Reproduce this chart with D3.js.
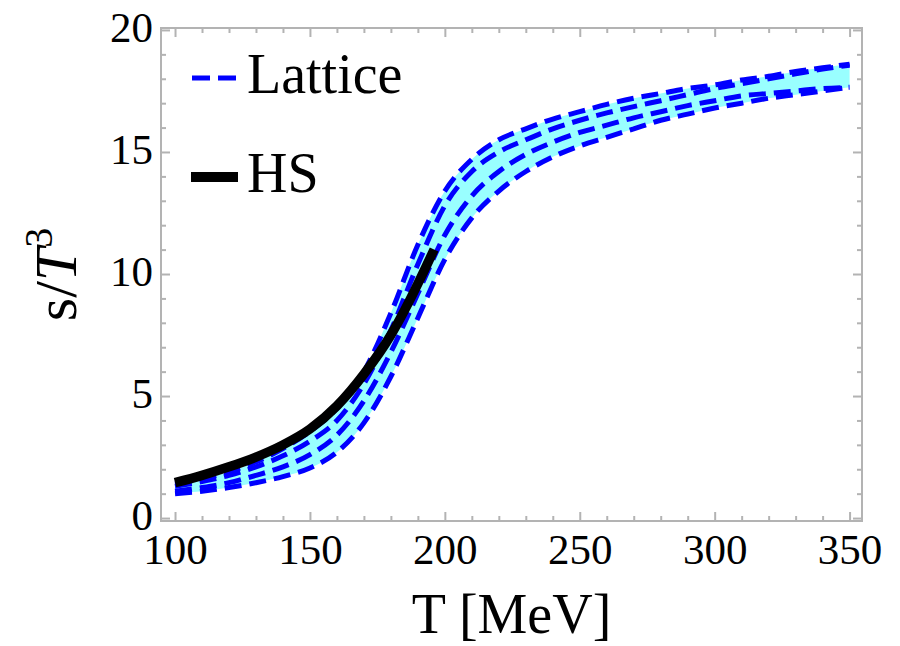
<html>
<head>
<script src="https://d3js.org/d3.v7.min.js"></script>
<style>
  body { margin: 0; background: white; }
  text { font-family: "Liberation Serif", "DejaVu Serif", serif; fill: black; }
  .axis path { display: none; }
  .axis line { stroke: #b3b3b3; stroke-width: 2; }
  .axis text { font-size: 43px; }
</style>
</head>
<body>
<svg width="900" height="646"></svg>
<script>

// temperatures (MeV) the lattice curves are read at
var latT = [100,110,120,130,140,150,160,170,180,190,200,210,220,230,240,250,260,270,280,290,300,310,320,330,340,350];
// four dashed lattice curves, s/T^3
var latA = [1.4,1.6,1.9,2.3,2.85,3.55,4.5,6.0,8.4,11.2,13.4,14.7,15.5,15.95,16.35,16.65,16.95,17.2,17.4,17.6,17.75,17.95,18.1,18.3,18.45,18.6];
var latB = [1.3,1.5,1.75,2.1,2.55,3.15,4.0,5.5,7.7,10.4,12.8,14.2,15.0,15.5,15.95,16.3,16.6,16.86,17.1,17.35,17.6,17.8,18.0,18.2,18.4,18.55];
var latC = [1.1,1.25,1.45,1.75,2.1,2.6,3.4,4.8,6.8,9.2,11.6,13.2,14.2,14.9,15.4,15.8,16.1,16.4,16.65,16.9,17.1,17.3,17.4,17.5,17.6,17.65];
var latD = [1.0,1.1,1.25,1.45,1.7,2.05,2.7,3.9,5.8,8.2,10.6,12.3,13.4,14.2,14.8,15.25,15.6,15.95,16.3,16.55,16.8,17.0,17.2,17.35,17.5,17.65];

// hadron spectrum curve
var hsT = [100,110,120,130,140,150,160,170,180,185,190,196];
var hsS = [1.45,1.75,2.1,2.5,3.0,3.65,4.6,5.9,7.5,8.5,9.6,11.0];

var xMajor = [100,150,200,250,300,350];
var yMajor = [0,5,10,15,20];
var xMinor = d3.range(100, 351, 10).filter(function(d) { return d % 50 != 0; });
var yMinor = d3.range(0, 21, 1).filter(function(d) { return d % 5 != 0; });

var plotLeft = 161, plotRight = 862, plotTop = 28, plotBottom = 521;

var x = d3.scaleLinear().domain([94.8, 354.6]).range([plotLeft, plotRight]);
var y = d3.scaleLinear().domain([-0.12, 20.08]).range([plotBottom, plotTop]);

var svg = d3.select("svg");

// lattice band
var rows = latT.map(function(t, i) {
  return {t: t, v: [latA[i], latB[i], latC[i], latD[i]]};
});

var band = d3.area()
  .x(function(d) { return x(d.t); })
  .y0(function(d) { return y(d3.min(d.v)); })
  .y1(function(d) { return y(d3.max(d.v)); })
  .curve(d3.curveMonotoneX);

svg.append("path")
  .datum(rows)
  .attr("d", band)
  .attr("fill", "#99ffff");

var line = d3.line()
  .x(function(d) { return x(d[0]); })
  .y(function(d) { return y(d[1]); })
  .curve(d3.curveMonotoneX);

[latA, latB, latC, latD].forEach(function(s) {
  svg.append("path")
    .datum(d3.zip(latT, s))
    .attr("d", line)
    .attr("fill", "none")
    .attr("stroke", "#0000ff")
    .attr("stroke-width", 5)
    .attr("stroke-dasharray", "17,8");
});

svg.append("path")
  .datum(d3.zip(hsT, hsS))
  .attr("d", line)
  .attr("fill", "none")
  .attr("stroke", "black")
  .attr("stroke-width", 9.5);

// frame and ticks, all pointing inward
svg.append("rect")
  .attr("x", plotLeft).attr("y", plotTop)
  .attr("width", plotRight - plotLeft).attr("height", plotBottom - plotTop)
  .attr("fill", "none")
  .attr("stroke", "#b3b3b3")
  .attr("stroke-width", 2);

svg.append("g").attr("class", "axis")
  .attr("transform", "translate(0," + plotBottom + ")")
  .call(d3.axisBottom(x).tickValues(xMajor).tickSize(-9).tickPadding(12).tickFormat(d3.format("d")));
svg.append("g").attr("class", "axis")
  .attr("transform", "translate(0," + plotBottom + ")")
  .call(d3.axisBottom(x).tickValues(xMinor).tickSize(-5).tickFormat(""));
svg.append("g").attr("class", "axis")
  .attr("transform", "translate(0," + plotTop + ")")
  .call(d3.axisTop(x).tickValues(xMajor).tickSize(-9).tickFormat(""));
svg.append("g").attr("class", "axis")
  .attr("transform", "translate(0," + plotTop + ")")
  .call(d3.axisTop(x).tickValues(xMinor).tickSize(-5).tickFormat(""));

svg.append("g").attr("class", "axis")
  .attr("transform", "translate(" + plotLeft + ",0)")
  .call(d3.axisLeft(y).tickValues(yMajor).tickSize(-9).tickPadding(8).tickFormat(d3.format("d")))
  .selectAll("text").attr("dy", "0.26em");
svg.append("g").attr("class", "axis")
  .attr("transform", "translate(" + plotLeft + ",0)")
  .call(d3.axisLeft(y).tickValues(yMinor).tickSize(-5).tickFormat(""));
svg.append("g").attr("class", "axis")
  .attr("transform", "translate(" + plotRight + ",0)")
  .call(d3.axisRight(y).tickValues(yMajor).tickSize(-9).tickFormat(""));
svg.append("g").attr("class", "axis")
  .attr("transform", "translate(" + plotRight + ",0)")
  .call(d3.axisRight(y).tickValues(yMinor).tickSize(-5).tickFormat(""));

// axis titles
svg.append("text")
  .attr("x", (plotLeft + plotRight) / 2)
  .attr("y", 633)
  .attr("text-anchor", "middle")
  .style("font-size", "56px")
  .text("T [MeV]");

var ylab = svg.append("text")
  .attr("transform", "translate(76," + (plotTop + plotBottom) / 2 + ") rotate(-90)")
  .attr("text-anchor", "middle")
  .style("font-size", "60px");
ylab.append("tspan").text("s/");
ylab.append("tspan").style("font-style", "italic").text("T");
ylab.append("tspan").attr("dy", -24).style("font-size", "40px").text("3");

// legend
var legend = svg.append("g");
legend.append("line")
  .attr("x1", 192).attr("x2", 236).attr("y1", 78).attr("y2", 78)
  .attr("stroke", "#0000ff").attr("stroke-width", 5)
  .attr("stroke-dasharray", "18,8");
legend.append("text")
  .attr("x", 247).attr("y", 93)
  .style("font-size", "56px")
  .text("Lattice");
legend.append("line")
  .attr("x1", 191).attr("x2", 238).attr("y1", 177).attr("y2", 177)
  .attr("stroke", "black").attr("stroke-width", 10);
legend.append("text")
  .attr("x", 247).attr("y", 192)
  .style("font-size", "56px")
  .text("HS");

</script>
</body>
</html>
